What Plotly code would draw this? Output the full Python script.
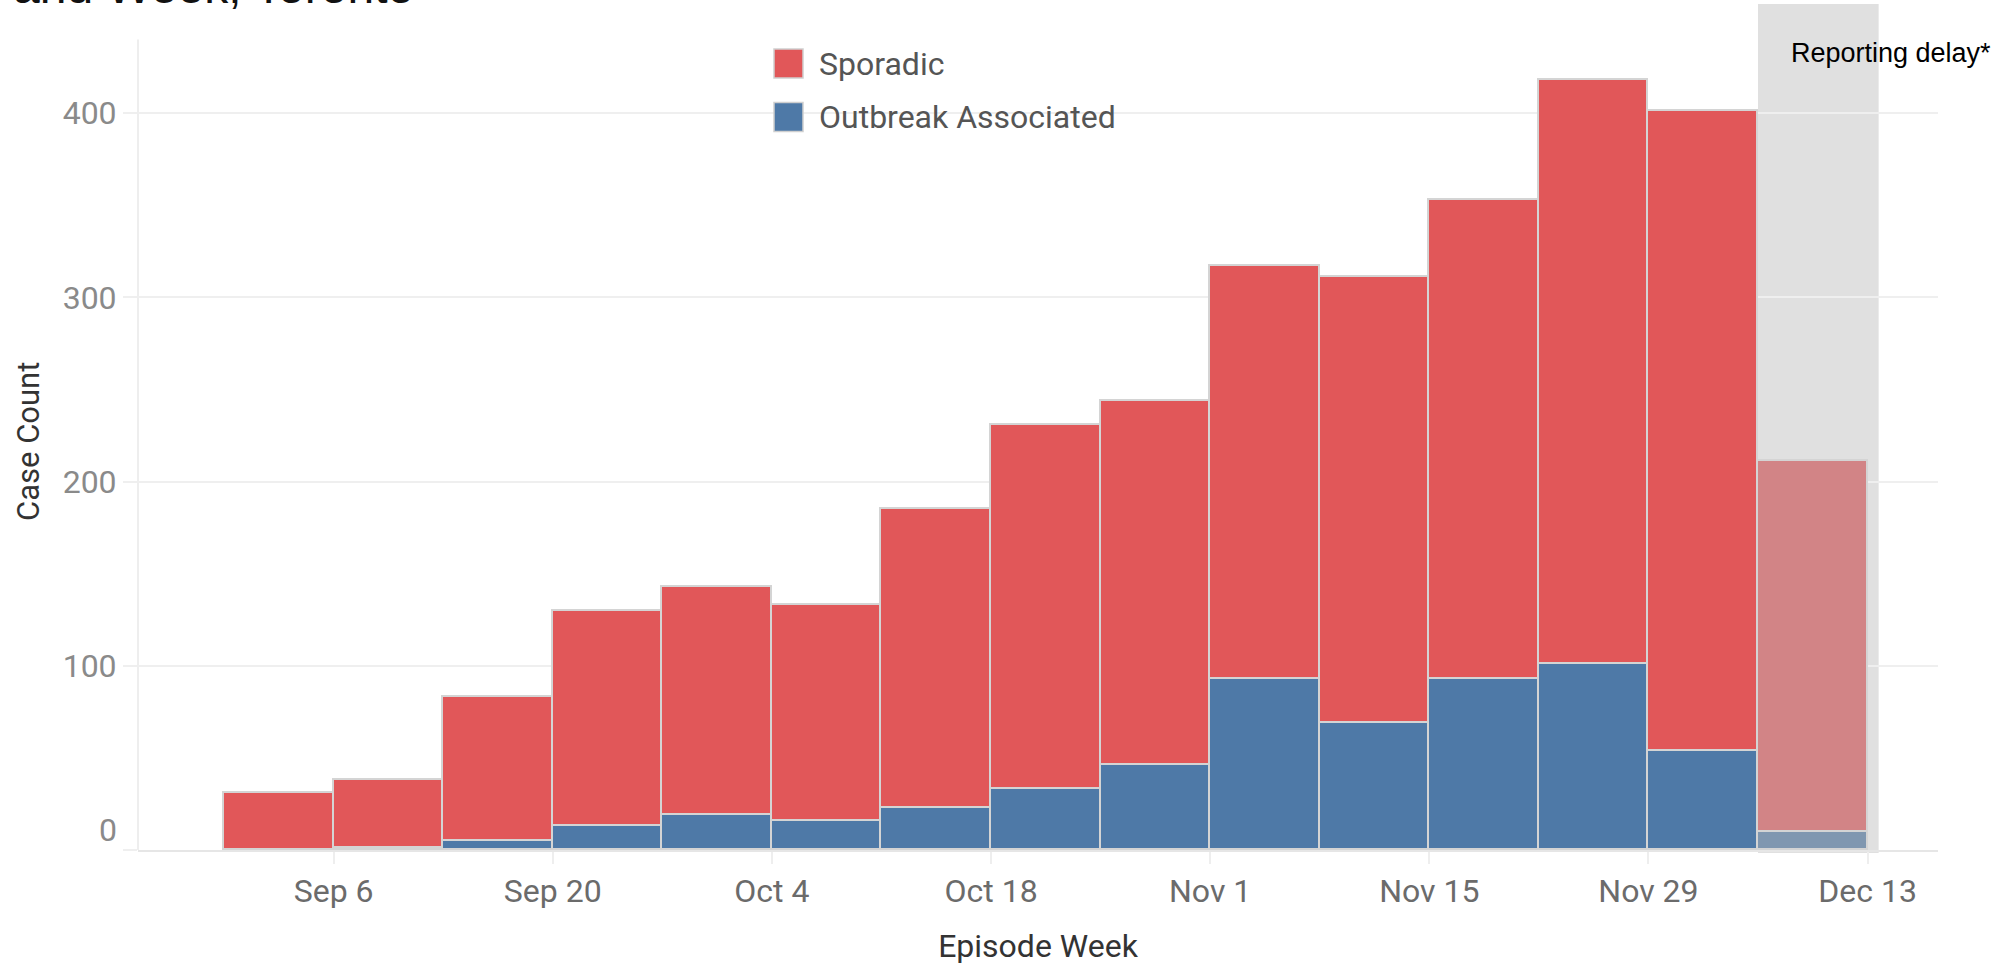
import plotly.graph_objects as go

# ---------------- data ----------------
week_start = ["2020-08-30", "2020-09-06", "2020-09-13", "2020-09-20", "2020-09-27",
              "2020-10-04", "2020-10-11", "2020-10-18", "2020-10-25", "2020-11-01",
              "2020-11-08", "2020-11-15", "2020-11-22", "2020-11-29", "2020-12-06"]
sporadic = [31, 37, 78, 117, 124, 117, 162, 198, 198, 224, 242, 260, 317, 347, 201]
outbreak = [0, 1, 5, 13, 19, 16, 23, 33, 46, 93, 69, 93, 101, 54, 10]
reporting_delay = [False] * 14 + [True]

tick_dates = ["2020-09-06", "2020-09-20", "2020-10-04", "2020-10-18",
              "2020-11-01", "2020-11-15", "2020-11-29", "2020-12-13"]
tick_labels = ["Sep 6", "Sep 20", "Oct 4", "Oct 18", "Nov 1", "Nov 15", "Nov 29", "Dec 13"]
y_ticks = [0, 100, 200, 300, 400]

delay_band = ["2020-12-06", "2020-12-13 17:00"]

# ---------------- style ----------------
W, H = 1997, 967
ML, MR, MT, MB = 138, 59, 4, 117
PW, PH = W - ML - MR, H - MT - MB
RED, BLUE = "#E15759", "#4E79A7"
RED_FADE, BLUE_FADE = "#D28486", "#8097B0"
WEEK_MS = 7 * 24 * 3600 * 1000
FONT = "Roboto"


def px2x(px):
    return (px - ML) / PW


def py2y(py):
    return (H - MB - py) / PH


fig = go.Figure()
fig.add_trace(go.Bar(
    name="Outbreak Associated", x=week_start, y=outbreak, offset=0,
    width=[WEEK_MS] * len(week_start),
    marker=dict(color=[BLUE_FADE if d else BLUE for d in reporting_delay],
                line=dict(color="#d4d4d4", width=1.6)),
    showlegend=False))
fig.add_trace(go.Bar(
    name="Sporadic", x=week_start, y=sporadic, offset=0,
    width=[WEEK_MS] * len(week_start),
    marker=dict(color=[RED_FADE if d else RED for d in reporting_delay],
                line=dict(color="#d4d4d4", width=1.6)),
    showlegend=False))

shapes = [
    # reporting delay band
    dict(type="rect", xref="x", yref="paper", x0=delay_band[0], x1=delay_band[1],
         y0=-0.0035, y1=1, fillcolor="#E0E0E0", line=dict(width=0), layer="below"),
    # left axis line
    dict(type="line", xref="paper", yref="y", x0=0, x1=0, y0=0, y1=440,
         line=dict(color="#e8e8e8", width=1.5), layer="below"),
    # legend swatches
    dict(type="rect", xref="paper", yref="paper", x0=px2x(774), x1=px2x(803),
         y0=py2y(78), y1=py2y(49), fillcolor=RED, line=dict(color="#cfcfcf", width=1.5)),
    dict(type="rect", xref="paper", yref="paper", x0=px2x(774), x1=px2x(803),
         y0=py2y(131.5), y1=py2y(102.5), fillcolor=BLUE, line=dict(color="#cfcfcf", width=1.5)),
]

annotations = [
    dict(text="Sporadic", xref="paper", yref="paper", x=px2x(817), y=py2y(63.7),
         xanchor="left", yanchor="middle", showarrow=False,
         font=dict(family=FONT, size=32, color="#555555")),
    dict(text="Outbreak Associated", xref="paper", yref="paper", x=px2x(817), y=py2y(117.2),
         xanchor="left", yanchor="middle", showarrow=False,
         font=dict(family=FONT, size=32, color="#555555")),
    dict(text="Reporting delay*", xref="paper", yref="paper", x=px2x(1789), y=py2y(53.5),
         xanchor="left", yanchor="middle", showarrow=False,
         font=dict(family="Liberation Sans", size=27, color="#000000")),
    dict(text="and Week, Toronto", xref="paper", yref="paper", x=px2x(416), y=py2y(15),
         xanchor="right", yanchor="bottom", showarrow=False,
         font=dict(family="Liberation Sans", size=48, color="#111111")),
    dict(text="0", xref="paper", yref="y", x=0, y=0, xanchor="right", yanchor="middle",
         xshift=-19, yshift=20, showarrow=False,
         font=dict(family=FONT, size=32, color="#8a8a8a")),
    # y axis title
    dict(text="Case Count", xref="paper", yref="paper", x=px2x(28), y=py2y(442),
         xanchor="center", yanchor="middle", textangle=-90, showarrow=False,
         font=dict(family=FONT, size=31, color="#333333")),
]

fig.update_layout(
    width=W, height=H,
    margin=dict(l=ML, r=MR, t=MT, b=MB, pad=0),
    paper_bgcolor="white", plot_bgcolor="white",
    barmode="stack", bargap=0,
    shapes=shapes, annotations=annotations,
    xaxis=dict(type="date", range=["2020-08-24 12:00", "2020-12-17 12:00"],
               tickvals=tick_dates, ticktext=tick_labels,
               ticks="outside", ticklen=12, tickwidth=1.5, tickcolor="#eeeeee",
               showgrid=False, zeroline=False,
               showline=True, linecolor="#e6e6e6", linewidth=1.5,
               tickfont=dict(family=FONT, size=32, color="#6b6b6b"),
               title=dict(text="Episode Week", standoff=25,
                          font=dict(family=FONT, size=32, color="#333333")),
               automargin=False, fixedrange=True),
    yaxis=dict(range=[0, 459.3], tickvals=y_ticks,
               ticktext=[str(v) if v else "" for v in y_ticks],
               ticks="outside", ticklen=14, tickwidth=1.5, tickcolor="#efefef",
               showgrid=True, gridcolor="#efefef", gridwidth=1.5,
               zeroline=False, showline=False,
               tickfont=dict(family=FONT, size=32, color="#8a8a8a"),
               automargin=False, fixedrange=True),
)

fig.write_html("out.html", config={"displayModeBar": False},
               post_script="document.body.style.margin='0';")
